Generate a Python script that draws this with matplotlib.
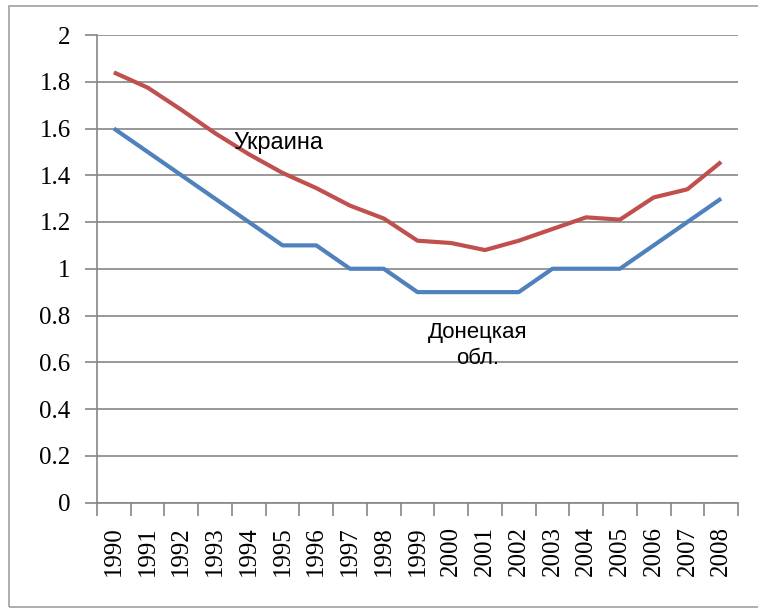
import matplotlib
matplotlib.use("Agg")
import matplotlib.pyplot as plt
from matplotlib.patches import Rectangle
from matplotlib.ticker import FixedLocator, MultipleLocator

years = [str(y) for y in range(1990, 2009)]
ukraine = [1.84, 1.775, 1.68, 1.58, 1.49, 1.41, 1.345, 1.27, 1.215, 1.12,
           1.11, 1.08, 1.12, 1.17, 1.22, 1.21, 1.305, 1.34, 1.457]
donetsk = [1.6, 1.5, 1.4, 1.3, 1.2, 1.1, 1.1, 1.0, 1.0, 0.9,
           0.9, 0.9, 0.9, 1.0, 1.0, 1.0, 1.1, 1.2, 1.3]
yticks = [0, 0.2, 0.4, 0.6, 0.8, 1, 1.2, 1.4, 1.6, 1.8, 2]
ytick_labels = ["0", "0.2", "0.4", "0.6", "0.8", "1", "1.2", "1.4", "1.6", "1.8", "2"]

fig = plt.figure(figsize=(7.58, 6.10), dpi=100)
ax = fig.add_axes([97/758, 1 - 502.5/610, (738 - 97)/758, (502.5 - 35)/610])

grid_color = "#868686"
x = list(range(len(years)))
ax.plot(x, donetsk, color="#4F81BD", lw=3.0, solid_capstyle="butt", zorder=3)
ax.plot(x, ukraine, color="#C0504D", lw=3.0, solid_capstyle="butt", zorder=3)

ax.set_xlim(-0.5, len(years) - 0.5)
ax.set_ylim(0, 2)

ax.set_yticks(yticks)
ax.set_yticklabels(ytick_labels, fontfamily="Liberation Serif", fontsize=18)
ax.yaxis.grid(True, color=grid_color, lw=1.2)
ax.set_axisbelow(True)
ax.tick_params(axis="y", length=9, width=1.2, color=grid_color, pad=10)

# category axis: ticks at boundaries, labels at centers
ax.xaxis.set_major_locator(FixedLocator([i - 0.5 for i in range(len(years) + 1)]))
ax.xaxis.set_minor_locator(FixedLocator(x))
ax.set_xticklabels([])
ax.set_xticks(x, minor=True)
ax.set_xticklabels(years, minor=True, rotation=90, fontfamily="Liberation Serif", fontsize=18)
ax.tick_params(axis="x", which="major", length=9, width=1.2, color=grid_color)
ax.tick_params(axis="x", which="minor", length=0, pad=17)

for s in ["top", "right"]:
    ax.spines[s].set_visible(False)
for s in ["left", "bottom"]:
    ax.spines[s].set_color(grid_color)
    ax.spines[s].set_linewidth(1.2)

ax.text(3.53, 1.538, "Украина", fontfamily="Liberation Sans", fontsize=17,
        ha="left", va="center", zorder=4)
ax.text(10.79, 0.67, "Донецкая\nобл.", fontfamily="Liberation Sans", fontsize=16,
        ha="center", va="center", linespacing=1.3, zorder=4)

fig.patches.append(Rectangle((9/758, 3/610), 760/758, 601/610, transform=fig.transFigure,
                             fill=False, edgecolor="#A0A0A0", lw=1.2))

fig.savefig("out.png", dpi=100)
